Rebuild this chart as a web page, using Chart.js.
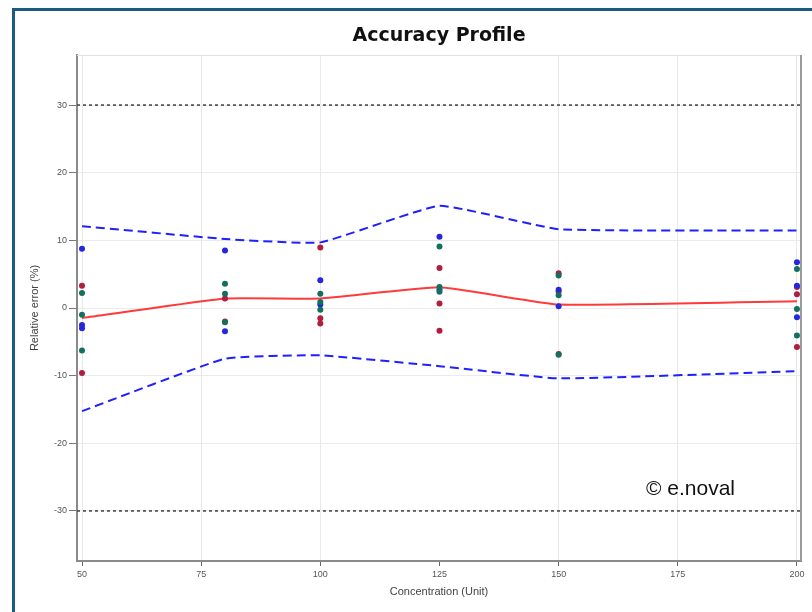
<!DOCTYPE html>
<html>
<head>
<meta charset="utf-8">
<script src="https://cdn.jsdelivr.net/npm/chart.js@4.4.1/dist/chart.umd.min.js"></script>
<style>
  html, body { margin: 0; padding: 0; background: #fff; }
  #wrap { position: relative; width: 812px; height: 612px; overflow: hidden; }
  #frame { position: absolute; left: 12px; top: 8px; width: 900px; height: 700px;
           border-left: 3px solid #1b5b7e; border-top: 3px solid #1b5b7e; pointer-events: none; }
  canvas { position: absolute; left: 0; top: 0; }
</style>
</head>
<body>
<div id="wrap">
  <canvas id="chart" width="812" height="612"></canvas>
  <div id="frame"></div>
</div>
<script>
// Concentration levels (x) and the relative errors (%) found for each run
const concentrations = [50, 80, 100, 125, 150, 200];
const run1 = [[8.75, -2.5, -3.0], [8.5, -3.45], [4.1, 0.5], [10.55, 2.7], [2.7, 0.25], [6.75, 3.3, -1.35]];
const run2 = [[2.2, -1.0, -6.3], [3.6, 2.1, -2.1], [2.1, 0.9, -0.25], [9.1, 3.1, 2.4], [4.8, 1.9, -6.9], [5.75, -0.15, -4.05]];
const run3 = [[3.3, -9.6], [1.4, -2.0], [8.95, -1.5, -2.3], [5.9, 0.65, -3.35], [5.15, 2.45, -6.8], [3.1, 2.05, -5.75]];

// Mean relative bias and tolerance interval limits
const meanBias = [-1.5, 1.4, 1.4, 3.05, 0.5, 1.0];
const upperTolerance = [12.1, 10.2, 9.7, 15.1, 11.65, 11.45];
const lowerTolerance = [-15.25, -7.5, -7.0, -8.6, -10.4, -9.35];

// Acceptance limits (%)
const acceptanceLimits = [30, -30];

// Axis ranges and tick labels
const xRange = [48.95, 200.85];
const yRange = [-37.4, 37.4];
const xTicks = [50, 75, 100, 125, 150, 175, 200];
const yTicks = [30, 20, 10, 0, -10, -20, -30];

const chartTitle = 'Accuracy Profile';

const toPoints = (runs) => concentrations.flatMap((c, i) => runs[i].map(v => ({ x: c, y: v })));
const toLine = (vals) => concentrations.map((c, i) => ({ x: c, y: vals[i] }));

const pointSet = (label, runs, color, order) => ({
  label, data: toPoints(runs), backgroundColor: color, borderColor: color,
  pointRadius: 3, borderWidth: 0, showLine: false, order
});
const lineSet = (label, data, color, width, dash, order, tension) => ({
  label, data, borderColor: color, backgroundColor: color, borderWidth: width,
  borderDash: dash, pointRadius: 0, showLine: true, order, tension
});

const datasets = [
  pointSet('Run 2', run2, '#13705f', 1),
  pointSet('Run 1', run1, '#2626de', 2),
  pointSet('Run 3', run3, '#b01d3d', 3),
  lineSet('Mean bias', toLine(meanBias), '#ff3a3a', 2, [], 4, 0.12),
  lineSet('Upper tolerance', toLine(upperTolerance), '#2020ff', 2, [9, 5], 5, 0.12),
  lineSet('Lower tolerance', toLine(lowerTolerance), '#2020ff', 2, [9, 5], 5, 0.12),
  ...acceptanceLimits.map(l => lineSet('Acceptance ' + l, [{ x: xRange[0], y: l }, { x: xRange[1], y: l }],
    '#4a4a4a', 1.6, [3, 3], 6, 0))
];

// Plot frame (right/top edges), title centred over the plot and the copyright note
const decor = {
  id: 'decor',
  beforeDatasetsDraw(chart) {
    const { ctx, chartArea: a } = chart;
    ctx.save();
    ctx.strokeStyle = '#e2e2e2';
    ctx.lineWidth = 1;
    ctx.beginPath(); ctx.moveTo(a.left, a.top + 0.5); ctx.lineTo(a.right, a.top + 0.5); ctx.stroke();
    ctx.strokeStyle = '#9a9a9a';
    ctx.lineWidth = 2;
    ctx.beginPath(); ctx.moveTo(a.right, a.top); ctx.lineTo(a.right, a.bottom); ctx.stroke();
    ctx.restore();
  },
  afterDraw(chart) {
    const { ctx, chartArea: a } = chart;
    ctx.save();
    ctx.fillStyle = '#111';
    ctx.font = 'bold 19px "DejaVu Sans", Verdana, sans-serif';
    ctx.textAlign = 'center';
    ctx.textBaseline = 'middle';
    ctx.fillText(chartTitle, (a.left + a.right) / 2, 36);
    ctx.font = '21px "Liberation Sans", Arial, sans-serif';
    ctx.textAlign = 'left';
    ctx.fillText('© e.noval', 646, 489);
    ctx.restore();
  }
};

const tickFont = { family: '"Liberation Sans", Arial, sans-serif', size: 9 };
const titleFont = { family: '"Liberation Sans", Arial, sans-serif', size: 11 };

new Chart(document.getElementById('chart'), {
  type: 'scatter',
  data: { datasets },
  plugins: [decor],
  options: {
    responsive: false,
    animation: false,
    layout: { padding: { left: 0, right: 11, top: 55, bottom: 0 } },
    plugins: {
      legend: { display: false },
      tooltip: { enabled: false },
      title: { display: false }
    },
    scales: {
      x: {
        type: 'linear', min: xRange[0], max: xRange[1],
        afterBuildTicks: s => { s.ticks = xTicks.map(v => ({ value: v })); },
        afterFit: s => { s.height = 51; },
        grid: {
          color: c => (c.tick && c.tick.value === 125) ? 'rgba(0,0,0,0)' : '#e8e8e8',
          lineWidth: 1, tickLength: 5, tickColor: '#666'
        },
        border: { color: '#8a8a8a', width: 2 },
        ticks: { font: tickFont, color: '#555', padding: 3, maxRotation: 0, autoSkip: false },
        title: { display: true, text: 'Concentration (Unit)', font: titleFont, color: '#444', padding: { top: 0, bottom: 13 } }
      },
      y: {
        type: 'linear', min: yRange[0], max: yRange[1],
        afterBuildTicks: s => { s.ticks = yTicks.map(v => ({ value: v })); },
        afterFit: s => { s.width = 77; },
        grid: { color: '#ebebeb', lineWidth: 1, tickLength: 8, tickColor: '#777' },
        border: { color: '#8a8a8a', width: 2 },
        ticks: { font: tickFont, color: '#555', padding: 2 },
        title: { display: true, text: 'Relative error (%)', font: titleFont, color: '#444', padding: { top: 28, bottom: 0 } }
      }
    }
  }
});
</script>
</body>
</html>
